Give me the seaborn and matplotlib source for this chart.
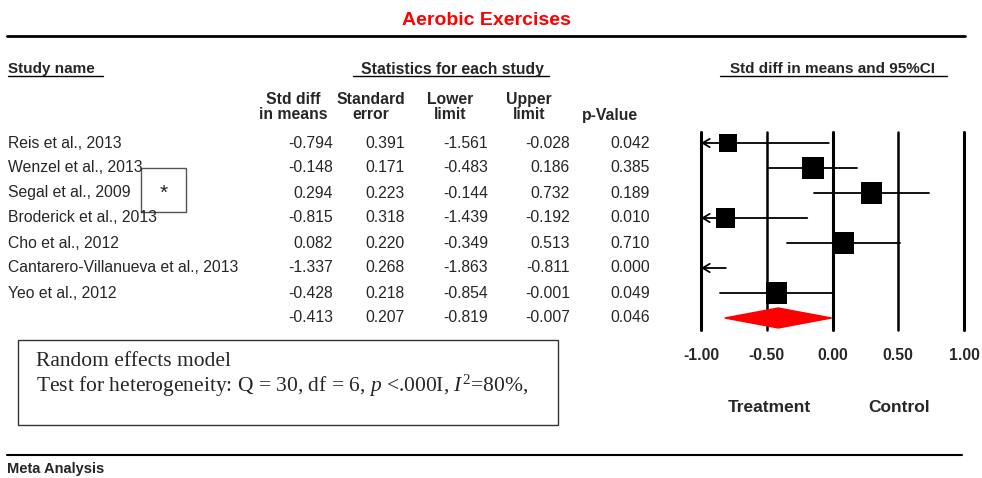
import numpy as np
import pandas as pd
import seaborn as sns
import matplotlib.pyplot as plt
from matplotlib.patches import Polygon, Rectangle

sns.set_style("white")
plt.rcParams['font.family'] = ['Liberation Sans', 'DejaVu Sans']
plt.rcParams['mathtext.fontset'] = 'custom'
plt.rcParams['mathtext.rm'] = 'Liberation Serif'
plt.rcParams['mathtext.it'] = 'Liberation Serif:italic'

studies = ["Reis et al., 2013", "Wenzel et al., 2013", "Segal et al., 2009",
           "Broderick et al., 2013", "Cho et al., 2012",
           "Cantarero-Villanueva et al., 2013", "Yeo et al., 2012"]
smd = [-0.794, -0.148, 0.294, -0.815, 0.082, -1.337, -0.428]
se = [0.391, 0.171, 0.223, 0.318, 0.220, 0.268, 0.218]
lower = [-1.561, -0.483, -0.144, -1.439, -0.349, -1.863, -0.854]
upper = [-0.028, 0.186, 0.732, -0.192, 0.513, -0.811, -0.001]
pval = [0.042, 0.385, 0.189, 0.010, 0.710, 0.000, 0.049]

pooled = [-0.413, 0.207, -0.819, -0.007, 0.046]
ticks = [-1.0, -0.5, 0.0, 0.5, 1.0]

df = pd.DataFrame({"study": studies, "smd": smd, "se": se,
                   "lower": lower, "upper": upper, "p": pval})
df["row"] = np.arange(len(df))

# random-effects weights (DerSimonian-Laird) for the box sizes
w = 1 / df["se"] ** 2
m = (w * df["smd"]).sum() / w.sum()
Q = (w * (df["smd"] - m) ** 2).sum()
C = w.sum() - (w ** 2).sum() / w.sum()
tau2 = max(0, (Q - (len(df) - 1)) / C)
df["wre"] = 1 / (df["se"] ** 2 + tau2)
side_px = 22 * np.sqrt(df["wre"] / df["wre"].max())
df["size"] = (side_px * 0.72) ** 2

FS = 11.3

fig = plt.figure(figsize=(9.82, 4.78), dpi=100)
bg = fig.add_axes([0, 0, 1, 1])
bg.set_xlim(0, 982)
bg.set_ylim(478, 0)
bg.axis("off")

# title + rules
bg.text(486, 20, "Aerobic Exercises", color="#FF0000", fontsize=14,
        fontweight="bold", ha="center", va="center")
bg.plot([7, 965], [36, 36], color="black", lw=2)
bg.plot([7, 962], [455, 455], color="black", lw=1.5)
bg.text(7, 469, "Meta Analysis", fontsize=10.5, fontweight="bold", va="center")

# headers
bg.text(8, 69, "Study name", fontsize=11, fontweight="bold", va="center")
bg.plot([8, 103], [76, 76], color="black", lw=1)
bg.text(452, 69, "Statistics for each study", fontsize=FS, fontweight="bold",
        ha="center", va="center")
bg.plot([353, 549], [76, 76], color="black", lw=1)
bg.text(833, 69, "Std diff in means and 95%CI", fontsize=11, fontweight="bold",
        ha="center", va="center")
bg.plot([720, 947], [76, 76], color="black", lw=1)

col_hdr = [("Std diff\nin means", 293), ("Standard\nerror", 371),
           ("Lower\nlimit", 450), ("Upper\nlimit", 529)]
for txt, x in col_hdr:
    bg.text(x, 107, txt, fontsize=FS, fontweight="bold", ha="center",
            va="center", linespacing=1.0)
bg.text(610, 115, "p-Value", fontsize=FS, fontweight="bold", ha="center",
        va="center")

# table rows
col_x = [333, 405, 488, 570, 650]
for _, r in df.iterrows():
    y = 143 + 25 * r["row"]
    bg.text(8, y, r["study"], fontsize=FS, va="center")
    for v, x in zip([r["smd"], r["se"], r["lower"], r["upper"], r["p"]], col_x):
        bg.text(x, y, f"{v:.3f}", fontsize=FS, va="center", ha="right")
y_sum = 143 + 25 * len(df)
for v, x in zip(pooled, col_x):
    bg.text(x, y_sum, f"{v:.3f}", fontsize=FS, va="center", ha="right")

# asterisk box
bg.add_patch(Rectangle((141, 168), 45, 44, fill=False, ec="#555555", lw=1))
bg.text(164, 193, "*", fontsize=15, ha="center", va="center")

# model box
bg.add_patch(Rectangle((18, 340), 540, 85, fill=False, ec="#333333", lw=1))
bg.text(36, 362, "Random effects model", family="Liberation Serif",
        fontsize=15.5, va="center")
bg.text(36, 386, r"Test for heterogeneity: Q = 30, df = 6, $\it{p}$ <.000I, $\it{I}^{2}$=80%,",
        family="Liberation Serif", fontsize=15.5, va="center")

bg.text(769, 408, "Treatment", fontsize=12.5, fontweight="bold", ha="center", va="center")
bg.text(899, 408, "Control", fontsize=12.5, fontweight="bold", ha="center", va="center")

# forest axes
L, R, T, B = 701, 964, 132, 330
ax = fig.add_axes([L / 982, 1 - B / 478, (R - L) / 982, (B - T) / 478])
ax.set_xlim(-1, 1)
ax.set_ylim((B - 143) / 25, (T - 143) / 25)
for t in ticks:
    ax.axvline(t, color="black", lw=2.2 if t in (-1, 0, 1) else 1.8,
               zorder=1, clip_on=False)

for _, r in df.iterrows():
    lo, hi = max(r["lower"], -1), min(r["upper"], 1)
    if r["lower"] < -1:
        ax.annotate("", xy=(-1, r["row"]), xytext=(hi, r["row"]),
                    arrowprops=dict(arrowstyle="->,head_length=0.5,head_width=0.3",
                                    lw=1.3, color="black", shrinkA=0, shrinkB=0),
                    zorder=2)
    else:
        ax.plot([lo, hi], [r["row"], r["row"]], color="black", lw=1.3, zorder=2)

vis = df[(df["smd"] >= -1) & (df["smd"] <= 1)]
sns.scatterplot(data=vis, x="smd", y="row", size="size",
                sizes=(vis["size"].min(), vis["size"].max()),
                marker="s", color="black", edgecolor="black", linewidth=0,
                legend=False, ax=ax, zorder=3)

est, _, lo, hi, _ = pooled
n = len(df)
ax.add_patch(Polygon([(lo, n), (est, n - 0.4), (hi, n), (est, n + 0.4)],
                     closed=True, color="#FF0000", zorder=3))

ax.set_xticks(ticks)
ax.set_xticklabels([f"{t:.2f}" for t in ticks], fontsize=FS, fontweight="bold")
ax.tick_params(axis="x", length=0, pad=13)
ax.set_yticks([])
ax.set_xlabel("")
ax.set_ylabel("")
for s in ax.spines.values():
    s.set_visible(False)
ax.patch.set_alpha(0)

fig.savefig("out.png", dpi=100)
